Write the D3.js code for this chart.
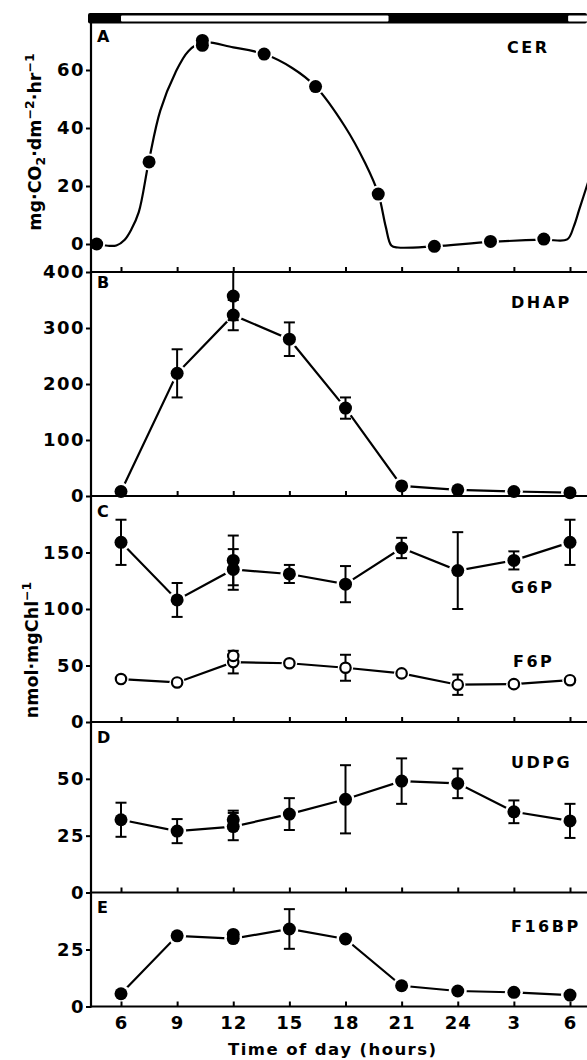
<!DOCTYPE html>
<html><head><meta charset="utf-8">
<script src="https://cdn.jsdelivr.net/npm/d3@7"></script>
<style>
html,body{margin:0;padding:0;background:#fff;}
svg{display:block;}
text{font-family:"DejaVu Sans",sans-serif;font-weight:bold;fill:#000;}
</style></head><body>
<svg id="chart" width="587" height="1060"></svg>
<script>
// ---------- data ----------
const hourTicks = [6, 9, 12, 15, 18, 21, 24, 27, 30];
const hourTickLabels = ["6", "9", "12", "15", "18", "21", "24", "3", "6"];
const lightPeriods = [[6, 20.3], [29.9, 33]];

// Panel A: CER
const cerTimes = [4.7, 7.5, 10.35, 10.35, 13.65, 16.4, 19.75, 22.75, 25.75, 28.6];
const cerValues = [0, 28.3, 70.2, 68.5, 65.5, 54.3, 17.2, -0.8, 0.9, 1.7];
const cerCurveTimes = [4.7, 5.3, 5.75, 6.2, 6.55, 6.95, 7.48, 8.1, 8.9, 9.6, 10.35, 12, 13.65, 15.15, 16.4, 17.96, 19.05, 19.76, 20.15, 20.45, 20.8, 22.75, 25.75, 28.6, 29.85, 30.2, 30.5, 31.0];
const cerCurveValues = [0, -0.6, -0.5, 1.5, 5, 11, 28.3, 46, 59, 66.5, 69.5, 67.8, 65.5, 60.7, 54.3, 40.6, 27.9, 17.2, 6, -0.5, -1.2, -0.8, 0.7, 1.5, 1.6, 6, 12, 22];

// Sampling times for panels B–E
const times = [6, 9, 12, 15, 18, 21, 24, 27, 30];

// Panel B: DHAP
const dhapValues = [8, 219, 323, 280, 157, 18, 11, 8, 6];
const dhapErrors = [0, 43, 27, 30, 19, 0, 0, 0, 0];
const dhapExtra12 = [357, 43];

// Panel C: G6P (filled) and F6P (open)
const g6pValues = [159, 108, 135, 131, 122, 154, 134, 143, 159];
const g6pErrors = [20, 15, 18, 8, 16, 9, 34, 8, 20];
const g6pExtra12 = [143, 22];
const f6pValues = [38, 35, 53, 52, 48, 43, 33, 33.5, 37];
const f6pErrors = [0, 0, 10, 0, 11.5, 0, 9, 0, 0];
const f6pExtra12 = [58.5, 0];

// Panel D: UDPG
const udpgValues = [32, 27, 29, 34.5, 41, 49, 48, 35.5, 31.5];
const udpgErrors = [7.5, 5.3, 6, 7, 15, 10, 6.5, 5, 7.5];
const udpgExtra12 = [32, 4];

// Panel E: F16BP
const f16bpValues = [5.6, 31, 29.8, 34, 29.6, 9.1, 6.8, 6.2, 5];
const f16bpErrors = [0, 0, 0, 8.7, 0, 0, 0, 0, 0];
const f16bpExtra12 = [31.6, 0];

// ---------- layout ----------
const svg = d3.select("#chart");
const axisX = 91, rightX = 587;
const x = d3.scaleLinear().domain([6, 30]).range([121, 570]);

const panels = [
  {id: "A", y: d3.scaleLinear().domain([0, 60]).range([244, 70]), top: 23.5, bottom: 272, ticks: [0, 20, 40, 60], lab: [42, "CER", 507, 53]},
  {id: "B", y: d3.scaleLinear().domain([0, 400]).range([496, 272]), top: 272, bottom: 496, ticks: [0, 100, 200, 300, 400], lab: [288, "DHAP", 511, 308]},
  {id: "C", y: d3.scaleLinear().domain([0, 200]).range([722, 496]), top: 496, bottom: 722, ticks: [0, 50, 100, 150], lab: [517, "G6P", 511, 593]},
  {id: "D", y: d3.scaleLinear().domain([0, 75]).range([892.5, 722]), top: 722, bottom: 892.5, ticks: [0, 25, 50], lab: [743, "UDPG", 511, 768]},
  {id: "E", y: d3.scaleLinear().domain([0, 50]).range([1006.5, 892.5]), top: 892.5, bottom: 1006.5, ticks: [0, 25], lab: [913, "F16BP", 511, 932]}
];
const P = {}; panels.forEach(p => P[p.id] = p);

const gLines = svg.append("g"), gHalo = svg.append("g"), gAxes = svg.append("g"),
      gErr = svg.append("g"), gDots = svg.append("g"), gText = svg.append("g");

// ---------- light/dark bar ----------
gAxes.append("rect").attr("x", 88).attr("y", 13).attr("width", rightX - 88).attr("height", 10.5)
  .attr("rx", 2).attr("fill", "#000");
lightPeriods.forEach(([a, b]) => {
  const x0 = x(a), x1 = Math.min(x(b), rightX + 5);
  gAxes.append("rect").attr("x", x0).attr("y", 15.5).attr("width", x1 - x0).attr("height", 6)
    .attr("rx", 1).attr("fill", "#fff");
});

// ---------- axes ----------
gAxes.append("line").attr("x1", axisX).attr("x2", axisX).attr("y1", 23).attr("y2", 1007.5)
  .attr("stroke", "#000").attr("stroke-width", 2.2);

panels.forEach(p => {
  gAxes.append("line").attr("x1", axisX).attr("x2", rightX).attr("y1", p.bottom).attr("y2", p.bottom)
    .attr("stroke", "#000").attr("stroke-width", 2.2);
  const xa = d3.axisBottom(x).tickValues(hourTicks).tickSize(-5).tickPadding(10)
    .tickFormat((d, i) => p.id === "E" ? hourTickLabels[i] : "");
  const gx = gAxes.append("g").attr("transform", `translate(0,${p.bottom})`).call(xa);
  gx.select(".domain").remove();
  gx.selectAll(".tick line").attr("stroke", "#000").attr("stroke-width", 2);
  gx.selectAll(".tick text").attr("font-size", 18).attr("font-family", "DejaVu Sans")
    .attr("font-weight", "bold").style("letter-spacing", "1px").attr("fill", "#000");
  const ya = d3.axisLeft(p.y).tickValues(p.ticks).tickSize(5).tickPadding(1).tickFormat(d3.format("d"));
  const gy = gAxes.append("g").attr("transform", `translate(${axisX},0)`).call(ya);
  gy.select(".domain").remove();
  gy.selectAll(".tick line").attr("stroke", "#000").attr("stroke-width", 2);
  gy.selectAll(".tick text").attr("font-size", 18).attr("font-family", "DejaVu Sans")
    .attr("font-weight", "bold").style("letter-spacing", "1.5px").attr("fill", "#000");
  gText.append("text").attr("x", 97).attr("y", p.lab[0]).attr("font-size", 16).text(p.id);
  gText.append("text").attr("x", p.lab[2]).attr("y", p.lab[3]).attr("font-size", 16)
    .style("letter-spacing", "2.5px").text(p.lab[1]);
});
gText.append("text").attr("x", 513).attr("y", 667).attr("font-size", 16)
  .style("letter-spacing", "2.5px").text("F6P");

// ---------- drawing helpers ----------
const lineGen = (p) => d3.line().x(d => x(d[0])).y(d => p.y(d[1]));

function drawSeries(p, vals, errs, extra, open) {
  const pts = times.map((t, i) => [t, vals[i], errs[i]]);
  const extraPt = [12, extra[0], extra[1]];
  gLines.append("path").datum(pts).attr("d", lineGen(p)).attr("fill", "none")
    .attr("stroke", "#000").attr("stroke-width", 2.2);
  const all = pts.concat([extraPt]);
  const r = open ? 5.2 : 6.5;
  gHalo.selectAll(null).data(all).join("circle")
    .attr("cx", d => x(d[0])).attr("cy", d => p.y(d[1])).attr("r", r + 2.5).attr("fill", "#fff");
  const withErr = all.filter(d => d[2] > 0);
  const capW = 5.5;
  withErr.forEach(d => {
    const cx = x(d[0]), y0 = p.y(d[1] - d[2]), y1 = p.y(d[1] + d[2]);
    gErr.append("line").attr("x1", cx).attr("x2", cx).attr("y1", y0).attr("y2", y1)
      .attr("stroke", "#000").attr("stroke-width", 2);
    [y0, y1].forEach(yy => gErr.append("line").attr("x1", cx - capW).attr("x2", cx + capW)
      .attr("y1", yy).attr("y2", yy).attr("stroke", "#000").attr("stroke-width", 2));
  });
  gDots.selectAll(null).data(all).join("circle")
    .attr("cx", d => x(d[0])).attr("cy", d => p.y(d[1])).attr("r", r)
    .attr("fill", open ? "#fff" : "#000").attr("stroke", "#000").attr("stroke-width", open ? 2.2 : 0);
}

// Panel A
{
  const p = P.A;
  const curve = cerCurveTimes.map((t, i) => [t, cerCurveValues[i]]);
  gLines.append("path").datum(curve).attr("d", lineGen(p).curve(d3.curveCatmullRom.alpha(0.5)))
    .attr("fill", "none").attr("stroke", "#000").attr("stroke-width", 2.2);
  const pts = cerTimes.map((t, i) => [t, cerValues[i]]);
  gHalo.selectAll(null).data(pts).join("circle")
    .attr("cx", d => x(d[0])).attr("cy", d => p.y(d[1])).attr("r", 8.5).attr("fill", "#fff");
  gDots.selectAll(null).data(pts).join("circle")
    .attr("cx", d => x(d[0])).attr("cy", d => p.y(d[1])).attr("r", 6.5).attr("fill", "#000");
}
drawSeries(P.B, dhapValues, dhapErrors, dhapExtra12, false);
drawSeries(P.C, g6pValues, g6pErrors, g6pExtra12, false);
drawSeries(P.C, f6pValues, f6pErrors, f6pExtra12, true);
drawSeries(P.D, udpgValues, udpgErrors, udpgExtra12, false);
drawSeries(P.E, f16bpValues, f16bpErrors, f16bpExtra12, false);

// ---------- axis titles ----------
const tA = gText.append("text").attr("transform", "translate(41,142) rotate(-90)")
  .attr("text-anchor", "middle").attr("font-size", 17.5);
tA.append("tspan").text("mg·CO");
tA.append("tspan").attr("font-size", 12.5).attr("dy", 4).text("2");
tA.append("tspan").attr("dy", -4).text("·dm");
tA.append("tspan").attr("font-size", 12.5).attr("dy", -7).text("−2");
tA.append("tspan").attr("dy", 7).text("·hr");
tA.append("tspan").attr("font-size", 12.5).attr("dy", -7).text("−1");

const tC = gText.append("text").attr("transform", "translate(38,650) rotate(-90)")
  .attr("text-anchor", "middle").attr("font-size", 17.5);
tC.append("tspan").text("nmol·mgChl");
tC.append("tspan").attr("font-size", 12.5).attr("dy", -7).text("−1");

gText.append("text").attr("x", 332).attr("y", 1055).attr("text-anchor", "middle")
  .attr("font-size", 16.5).attr("textLength", 208).attr("lengthAdjust", "spacing")
  .text("Time of day (hours)");
</script>
</body></html>
